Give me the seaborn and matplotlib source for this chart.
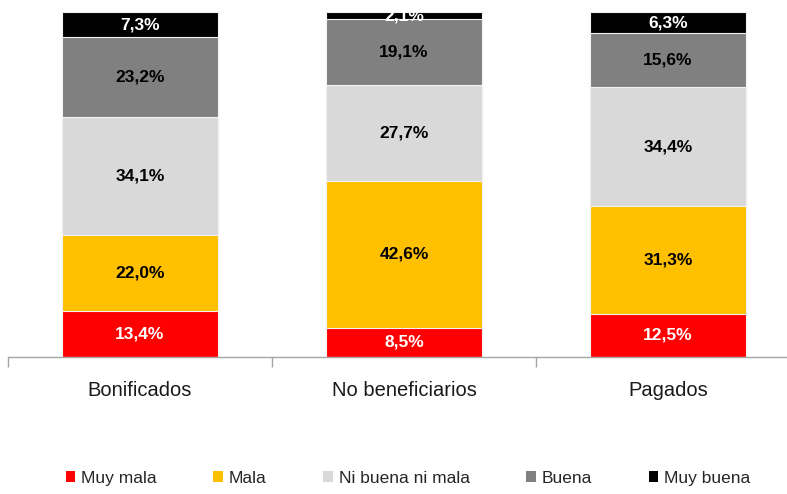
import numpy as np
import pandas as pd
import matplotlib
matplotlib.use('Agg')
import matplotlib.pyplot as plt
import seaborn as sns
from matplotlib.patches import Patch

categories = ['Bonificados', 'No beneficiarios', 'Pagados']
levels = ['Muy mala', 'Mala', 'Ni buena ni mala', 'Buena', 'Muy buena']
muy_mala = [13.4, 8.5, 12.5]
mala = [22.0, 42.6, 31.3]
ni_buena = [34.1, 27.7, 34.4]
buena = [23.2, 19.1, 15.6]
muy_buena = [7.3, 2.1, 6.3]

colors = ['#FF0000', '#FFC000', '#D9D9D9', '#808080', '#000000']
text_colors = ['white', 'black', 'black', 'black', 'white']

sns.set_style('white')
plt.rcParams['font.family'] = ['Liberation Sans', 'DejaVu Sans']

series = [muy_mala, mala, ni_buena, buena, muy_buena]
df = pd.DataFrame({'Categoria': np.repeat(categories, len(levels)),
                   'Nivel': levels * len(categories),
                   'Valor': np.array(series).T.ravel()})
df['Acum'] = df.groupby('Categoria')['Valor'].cumsum()

fig = plt.figure(figsize=(7.87, 4.94), dpi=100)
ax = fig.add_axes([8 / 787, (494 - 357) / 494, 792 / 787, 345 / 494])

# stacked: draw cumulative totals from the top level down
for lvl, col in reversed(list(zip(levels, colors))):
    sub = df[df['Nivel'] == lvl]
    sns.barplot(data=sub, x='Categoria', y='Acum', order=categories, color=col,
                width=0.59, edgecolor='#F2F2F2', linewidth=0.8, ax=ax,
                saturation=1, errorbar=None)

for i, cat in enumerate(categories):
    sub = df[df['Categoria'] == cat]
    for (_, row), tc in zip(sub.iterrows(), text_colors):
        ymid = row['Acum'] - row['Valor'] / 2
        ax.text(i, ymid, f"{row['Valor']:.1f}%".replace('.', ','), ha='center', va='center',
                color=tc, fontsize=12.5, fontweight='bold')

ax.set_xlim(-0.5, 2.5)
ax.set_ylim(0, 100)
ax.set_xlabel('')
ax.set_ylabel('')
ax.set_yticks([])
for s in ['top', 'right', 'left']:
    ax.spines[s].set_visible(False)
ax.spines['bottom'].set_color('#A6A6A6')
ax.spines['bottom'].set_linewidth(1)
ax.set_xticks([-0.5, 0.5, 1.5, 2.5], minor=True)
ax.tick_params(axis='x', which='minor', length=7, color='#A6A6A6', width=1, direction='out', bottom=True)
ax.tick_params(axis='x', which='major', length=0, pad=17, labelsize=14.5, labelcolor='#1A1A1A')

handles = [Patch(facecolor=c, edgecolor='none') for c in colors]
fig.legend(handles, levels, loc='center', bbox_to_anchor=(408 / 787, 1 - 478 / 494), ncol=5,
           frameon=False, fontsize=12.5, handlelength=0.55, handleheight=0.55,
           handletextpad=0.35, columnspacing=3.25)

fig.savefig('out.png', dpi=100)
